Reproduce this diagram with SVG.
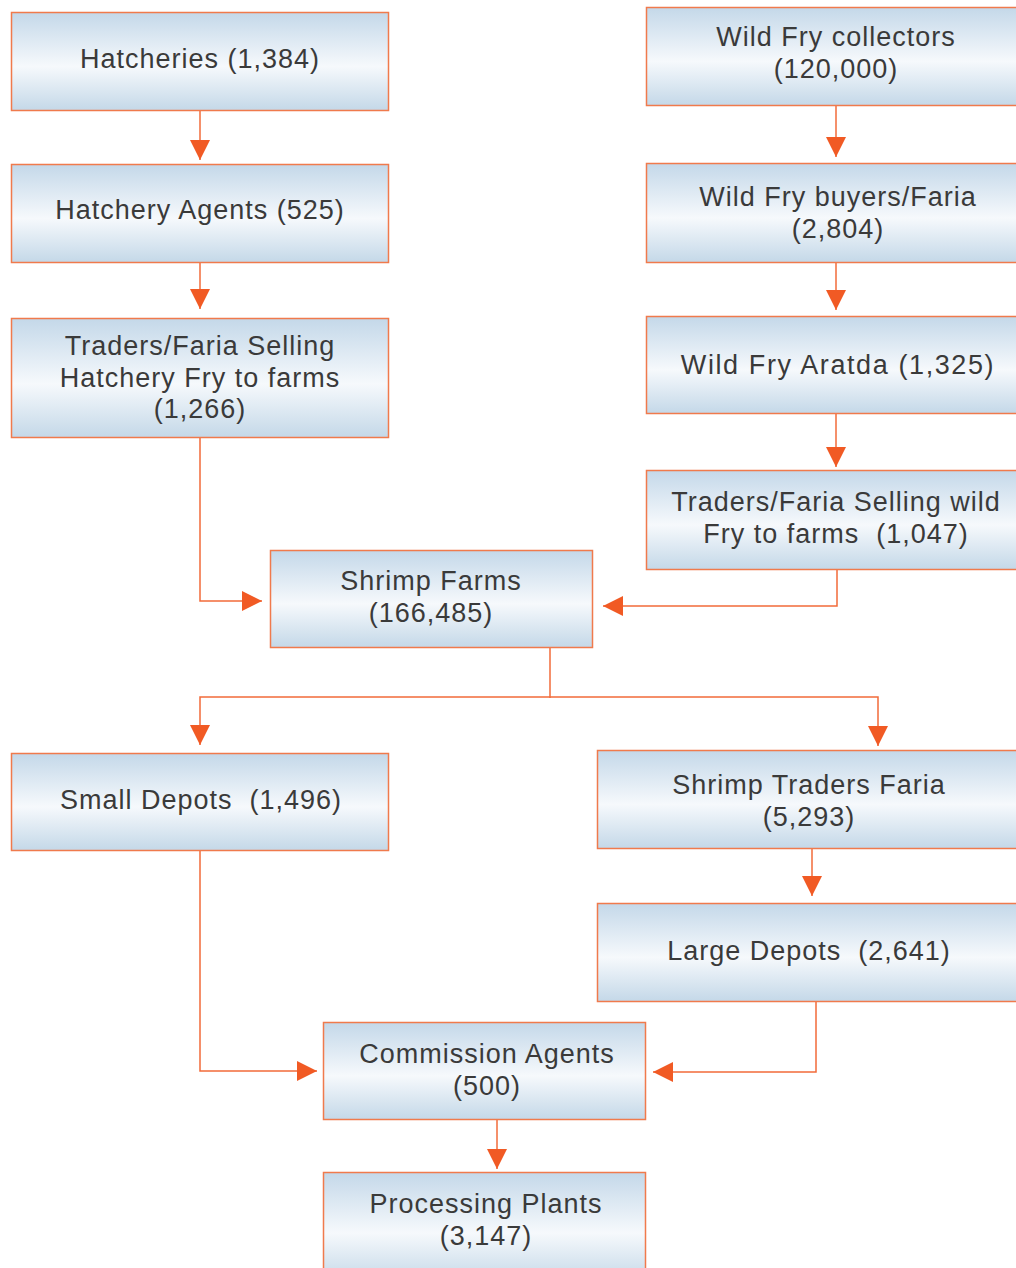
<svg xmlns="http://www.w3.org/2000/svg" width="1016" height="1268" viewBox="0 0 1016 1268">
<defs>
<linearGradient id="g" x1="0" y1="0" x2="0" y2="1">
<stop offset="0" stop-color="#C4D8E9"/>
<stop offset="0.55" stop-color="#F6F9FC"/>
<stop offset="1" stop-color="#C4D8E8"/>
</linearGradient>
<marker id="ah" markerUnits="userSpaceOnUse" markerWidth="20" markerHeight="20" viewBox="0 0 18 18" refX="18" refY="9" orient="auto">
<path d="M0,0 L18,9 L0,18 Z" fill="#F15A24"/>
</marker>
<style>
.box{fill:url(#g);stroke:#F07A4C;stroke-width:1.5}
.t{font-family:"Liberation Sans",Arial,sans-serif;font-size:27px;letter-spacing:1px;fill:#3A3A3A;text-anchor:middle;white-space:pre}
.c{fill:none;stroke:#F26B3A;stroke-width:1.5}
</style>
</defs>
<rect width="1016" height="1268" fill="#FFFFFF"/>
<g id="connectors">
<path class="c" d="M200,110 V160" marker-end="url(#ah)"/>
<path class="c" d="M200,262 V309" marker-end="url(#ah)"/>
<path class="c" d="M200,437 V601 H262" marker-end="url(#ah)"/>
<path class="c" d="M836,105 V157" marker-end="url(#ah)"/>
<path class="c" d="M836,262 V310" marker-end="url(#ah)"/>
<path class="c" d="M836,390 V467" marker-end="url(#ah)"/>
<path class="c" d="M837,569 V606 H603" marker-end="url(#ah)"/>
<path class="c" d="M550,647 V698"/>
<path class="c" d="M550,697 H200 V745" marker-end="url(#ah)"/>
<path class="c" d="M550,697 H878 V746" marker-end="url(#ah)"/>
<path class="c" d="M812,848 V896" marker-end="url(#ah)"/>
<path class="c" d="M200,850 V1071 H317" marker-end="url(#ah)"/>
<path class="c" d="M816,1001 V1072 H653" marker-end="url(#ah)"/>
<path class="c" d="M497,1119 V1169" marker-end="url(#ah)"/>
</g>
<g id="hatcheries"><rect class="box" x="11.5" y="12.5" width="377" height="98"/><text class="t" x="200" y="68">Hatcheries (1,384)</text></g>
<g id="hatchery-agents"><rect class="box" x="11.5" y="164.5" width="377" height="98"/><text class="t" x="200" y="219">Hatchery Agents (525)</text></g>
<g id="traders-hatchery"><rect class="box" x="11.5" y="318.5" width="377" height="119"/><text class="t" x="200" y="355">Traders/Faria Selling</text><text class="t" x="200" y="387">Hatchery Fry to farms</text><text class="t" x="200" y="418">(1,266)</text></g>
<g id="wild-fry-collectors"><rect class="box" x="646.5" y="7.5" width="390" height="98"/><text class="t" x="836" y="46">Wild Fry collectors</text><text class="t" x="836" y="78">(120,000)</text></g>
<g id="wild-fry-buyers"><rect class="box" x="646.5" y="163.5" width="390" height="99"/><text class="t" x="838" y="206">Wild Fry buyers/Faria</text><text class="t" x="838" y="238">(2,804)</text></g>
<g id="wild-fry-aratda"><rect class="box" x="646.5" y="316.5" width="390" height="97"/><text class="t" x="838" y="374" style="letter-spacing:1.6px">Wild Fry Aratda (1,325)</text></g>
<g id="traders-wild"><rect class="box" x="646.5" y="470.5" width="390" height="99"/><text class="t" x="836" y="511">Traders/Faria Selling wild</text><text class="t" x="836" y="543" xml:space="preserve">Fry to farms  (1,047)</text></g>
<g id="shrimp-farms"><rect class="box" x="270.5" y="550.5" width="322" height="97"/><text class="t" x="431" y="590">Shrimp Farms</text><text class="t" x="431" y="622">(166,485)</text></g>
<g id="small-depots"><rect class="box" x="11.5" y="753.5" width="377" height="97"/><text class="t" x="201" y="809" xml:space="preserve">Small Depots  (1,496)</text></g>
<g id="shrimp-traders"><rect class="box" x="597.5" y="750.5" width="440" height="98"/><text class="t" x="809" y="794">Shrimp Traders Faria</text><text class="t" x="809" y="826">(5,293)</text></g>
<g id="large-depots"><rect class="box" x="597.5" y="903.5" width="440" height="98"/><text class="t" x="809" y="960" xml:space="preserve">Large Depots  (2,641)</text></g>
<g id="commission-agents"><rect class="box" x="323.5" y="1022.5" width="322" height="97"/><text class="t" x="487" y="1063">Commission Agents</text><text class="t" x="487" y="1095">(500)</text></g>
<g id="processing-plants"><rect class="box" x="323.5" y="1172.5" width="322" height="110"/><text class="t" x="486" y="1213">Processing Plants</text><text class="t" x="486" y="1245">(3,147)</text></g>
</svg>
